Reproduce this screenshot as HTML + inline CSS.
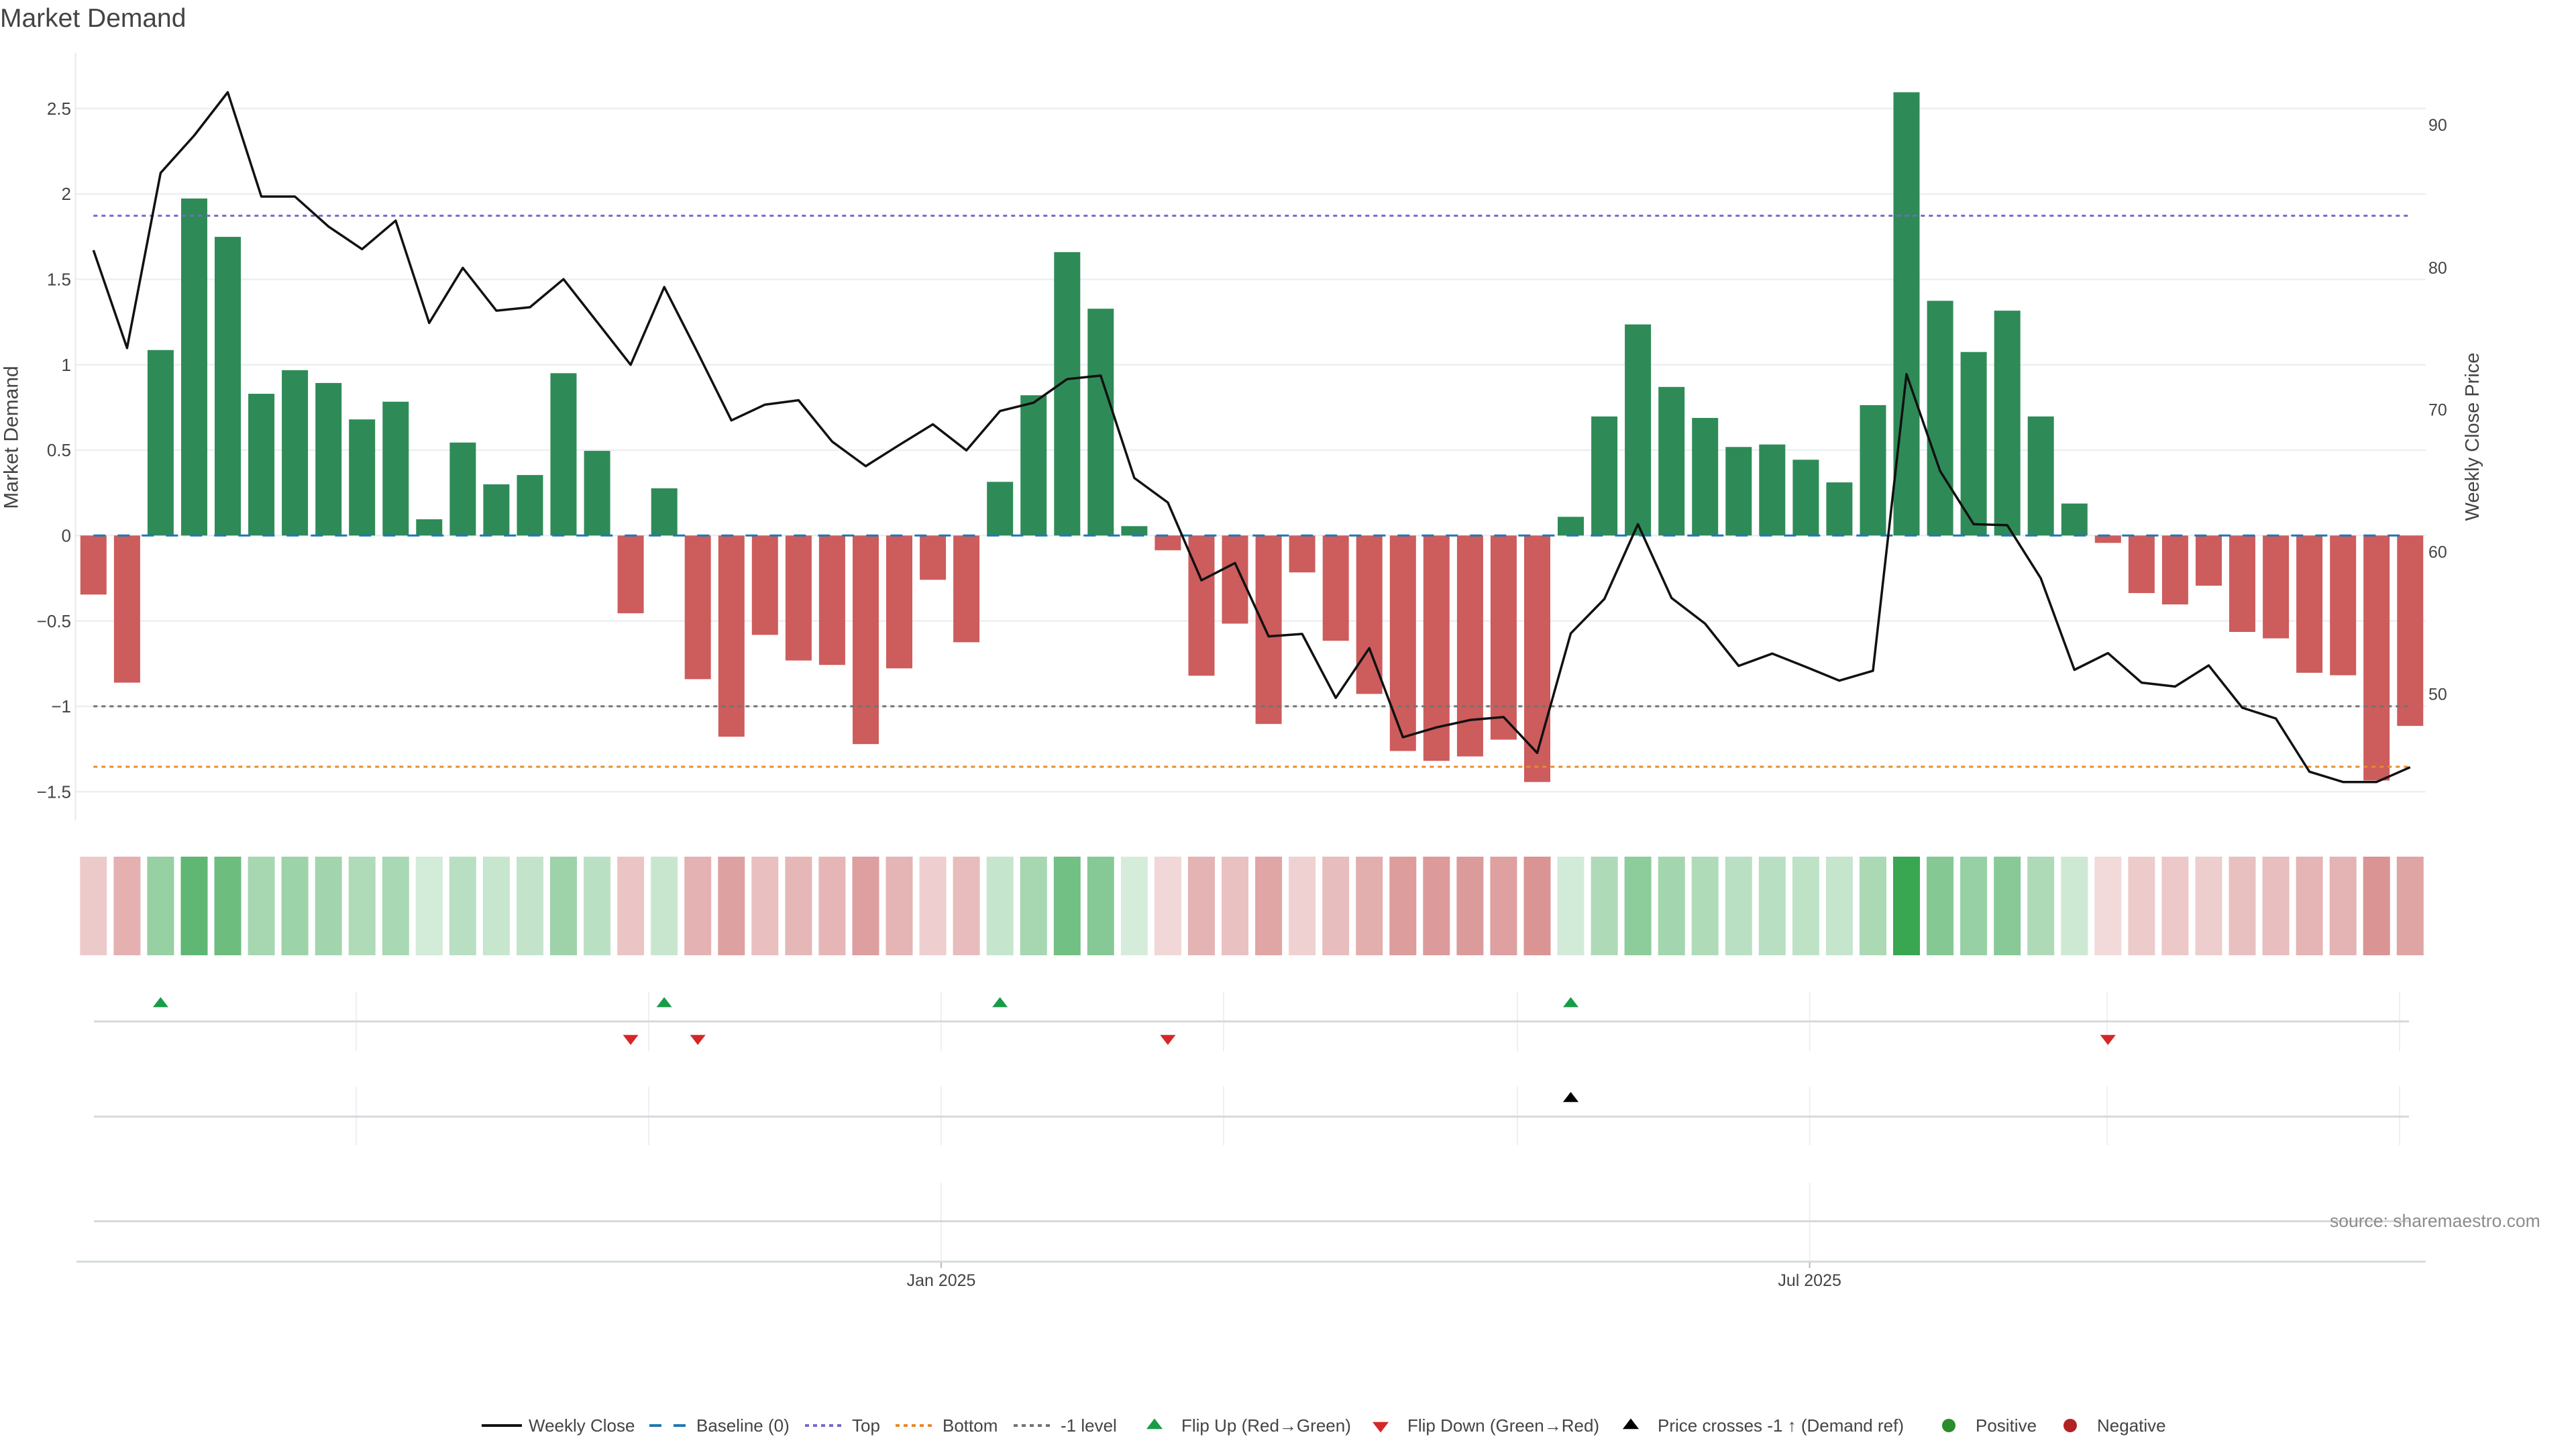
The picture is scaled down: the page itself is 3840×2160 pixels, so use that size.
<!DOCTYPE html>
<html>
<head>
<meta charset="utf-8">
<style>
html,body{margin:0;padding:0;background:#fff;}
svg{display:block;}
text{font-family:"Liberation Sans",Arial,sans-serif;}
</style>
</head>
<body>
<svg width="3840" height="2160" viewBox="0 0 3840 2160" xmlns="http://www.w3.org/2000/svg">
<rect x="0" y="0" width="3840" height="2160" fill="#fff"/>

<!-- Title -->
<text x="0" y="40" font-size="39" fill="#444">Market Demand</text>

<!-- Main plot gridlines -->
<g stroke="#eceff2" stroke-width="2.5">
<line x1="113" y1="161.8" x2="3616" y2="161.8"/>
<line x1="113" y1="289.1" x2="3616" y2="289.1"/>
<line x1="113" y1="416.4" x2="3616" y2="416.4"/>
<line x1="113" y1="543.7" x2="3616" y2="543.7"/>
<line x1="113" y1="671.0" x2="3616" y2="671.0"/>
<line x1="113" y1="798.3" x2="3616" y2="798.3"/>
<line x1="113" y1="925.6" x2="3616" y2="925.6"/>
<line x1="113" y1="1052.9" x2="3616" y2="1052.9"/>
<line x1="113" y1="1180.2" x2="3616" y2="1180.2"/>
</g>
<line x1="112.5" y1="79" x2="112.5" y2="1223" stroke="#e6e8eb" stroke-width="2"/>

<!-- Left tick labels -->
<g font-size="26" fill="#444" text-anchor="end">
<text x="106" y="171">2.5</text>
<text x="106" y="298">2</text>
<text x="106" y="425.5">1.5</text>
<text x="106" y="553">1</text>
<text x="106" y="680">0.5</text>
<text x="106" y="807.5">0</text>
<text x="106" y="935">−0.5</text>
<text x="106" y="1062">−1</text>
<text x="106" y="1189.5">−1.5</text>
</g>
<!-- Right tick labels -->
<g font-size="25" fill="#444">
<text x="3620" y="195">90</text>
<text x="3620" y="408">80</text>
<text x="3620" y="619.5">70</text>
<text x="3620" y="831.5">60</text>
<text x="3620" y="1043.5">50</text>
</g>
<!-- Axis titles -->
<text transform="translate(26.5,652) rotate(-90)" text-anchor="middle" font-size="30" fill="#444">Market Demand</text>
<text transform="translate(3695,651) rotate(-90)" text-anchor="middle" font-size="29" fill="#444">Weekly Close Price</text>

<!-- Bars -->
<g fill="#2e8b57">
<rect x="219.9" y="521.8" width="39" height="276.5"/>
<rect x="270.0" y="295.9" width="39" height="502.4"/>
<rect x="320.0" y="353.1" width="39" height="445.2"/>
<rect x="370.1" y="587.0" width="39" height="211.3"/>
<rect x="420.1" y="551.8" width="39" height="246.5"/>
<rect x="470.2" y="570.9" width="39" height="227.4"/>
<rect x="520.2" y="625.2" width="39" height="173.1"/>
<rect x="570.3" y="598.8" width="39" height="199.5"/>
<rect x="620.3" y="774.1" width="39" height="24.2"/>
<rect x="670.4" y="659.7" width="39" height="138.6"/>
<rect x="720.4" y="722.0" width="39" height="76.3"/>
<rect x="770.5" y="708.1" width="39" height="90.2"/>
<rect x="820.5" y="556.3" width="39" height="242.0"/>
<rect x="870.6" y="672.1" width="39" height="126.2"/>
<rect x="970.7" y="727.9" width="39" height="70.4"/>
<rect x="1471.2" y="718.3" width="39" height="80.0"/>
<rect x="1521.2" y="589.2" width="39" height="209.1"/>
<rect x="1571.3" y="375.8" width="39" height="422.5"/>
<rect x="1621.3" y="460.2" width="39" height="338.1"/>
<rect x="1671.4" y="784.3" width="39" height="14.0"/>
<rect x="2322.0" y="770.4" width="39" height="27.9"/>
<rect x="2372.1" y="620.8" width="39" height="177.5"/>
<rect x="2422.1" y="483.6" width="39" height="314.7"/>
<rect x="2472.2" y="576.8" width="39" height="221.5"/>
<rect x="2522.2" y="623.0" width="39" height="175.3"/>
<rect x="2572.3" y="666.3" width="39" height="132.0"/>
<rect x="2622.3" y="662.6" width="39" height="135.7"/>
<rect x="2672.4" y="685.3" width="39" height="113.0"/>
<rect x="2722.4" y="719.1" width="39" height="79.2"/>
<rect x="2772.5" y="603.9" width="39" height="194.4"/>
<rect x="2822.5" y="137.5" width="39" height="660.8"/>
<rect x="2872.6" y="448.4" width="39" height="349.9"/>
<rect x="2922.6" y="524.7" width="39" height="273.6"/>
<rect x="2972.7" y="463.1" width="39" height="335.2"/>
<rect x="3022.7" y="620.8" width="39" height="177.5"/>
<rect x="3072.8" y="750.6" width="39" height="47.7"/>
</g>
<g fill="#cd5c5c">
<rect x="119.8" y="798.3" width="39" height="88.0"/>
<rect x="169.9" y="798.3" width="39" height="219.3"/>
<rect x="920.6" y="798.3" width="39" height="115.9"/>
<rect x="1020.7" y="798.3" width="39" height="214.1"/>
<rect x="1070.8" y="798.3" width="39" height="299.9"/>
<rect x="1120.8" y="798.3" width="39" height="148.1"/>
<rect x="1170.9" y="798.3" width="39" height="186.3"/>
<rect x="1220.9" y="798.3" width="39" height="192.9"/>
<rect x="1271.0" y="798.3" width="39" height="310.9"/>
<rect x="1321.0" y="798.3" width="39" height="198.0"/>
<rect x="1371.1" y="798.3" width="39" height="66.0"/>
<rect x="1421.1" y="798.3" width="39" height="159.1"/>
<rect x="1721.4" y="798.3" width="39" height="22.0"/>
<rect x="1771.5" y="798.3" width="39" height="209.0"/>
<rect x="1821.5" y="798.3" width="39" height="131.3"/>
<rect x="1871.6" y="798.3" width="39" height="280.9"/>
<rect x="1921.6" y="798.3" width="39" height="55.0"/>
<rect x="1971.7" y="798.3" width="39" height="156.9"/>
<rect x="2021.7" y="798.3" width="39" height="236.1"/>
<rect x="2071.8" y="798.3" width="39" height="321.2"/>
<rect x="2121.8" y="798.3" width="39" height="335.9"/>
<rect x="2171.9" y="798.3" width="39" height="329.3"/>
<rect x="2221.9" y="798.3" width="39" height="304.3"/>
<rect x="2272.0" y="798.3" width="39" height="367.4"/>
<rect x="3122.8" y="798.3" width="39" height="11.0"/>
<rect x="3172.9" y="798.3" width="39" height="85.8"/>
<rect x="3222.9" y="798.3" width="39" height="102.7"/>
<rect x="3273.0" y="798.3" width="39" height="74.8"/>
<rect x="3323.0" y="798.3" width="39" height="143.7"/>
<rect x="3373.1" y="798.3" width="39" height="153.3"/>
<rect x="3423.1" y="798.3" width="39" height="204.6"/>
<rect x="3473.2" y="798.3" width="39" height="208.3"/>
<rect x="3523.2" y="798.3" width="39" height="365.2"/>
<rect x="3573.3" y="798.3" width="39" height="283.8"/>
</g>

<!-- Reference lines -->
<line x1="139.3" y1="798.3" x2="3592.8" y2="798.3" stroke="#1f77b4" stroke-width="3" stroke-dasharray="18 18"/>
<line x1="139.3" y1="321.6" x2="3592.8" y2="321.6" stroke="#7668c6" stroke-width="3" stroke-dasharray="6 6"/>
<line x1="139.3" y1="1052.9" x2="3592.8" y2="1052.9" stroke="#737373" stroke-width="3" stroke-dasharray="6 6"/>
<line x1="139.3" y1="1143.0" x2="3592.8" y2="1143.0" stroke="#e68a2e" stroke-width="3" stroke-dasharray="6 6"/>

<!-- Weekly close line -->
<polyline fill="none" stroke="#111" stroke-width="3.5" stroke-linejoin="round" points="139.3,372.9 189.4,518.8 239.4,257.8 289.5,202.0 339.5,137.5 389.6,293.0 439.6,293.0 489.7,337.7 539.7,371.4 589.8,328.9 639.8,481.4 689.9,399.3 739.9,463.1 790.0,458.0 840.0,416.2 890.1,480.0 940.1,543.8 990.2,427.9 1040.2,526.0 1090.3,626.7 1140.3,603.2 1190.4,596.6 1240.4,658.2 1290.5,694.9 1340.5,663.3 1390.6,632.5 1440.6,671.4 1490.7,612.7 1540.7,600.3 1590.8,565.1 1640.8,559.9 1690.9,712.5 1740.9,749.1 1791.0,865.0 1841.0,839.3 1891.1,948.6 1941.1,945.0 1991.2,1040.3 2041.2,966.2 2091.3,1099.0 2141.3,1084.3 2191.4,1073.3 2241.4,1068.9 2291.5,1122.4 2341.5,944.2 2391.6,892.9 2441.6,781.4 2491.7,891.4 2541.7,929.6 2591.8,992.6 2641.8,974.3 2691.9,994.1 2741.9,1014.6 2792.0,999.9 2842.0,557.7 2892.1,702.2 2942.1,781.4 2992.2,782.9 3042.2,862.1 3092.3,998.5 3142.3,973.6 3192.4,1017.6 3242.4,1023.4 3292.5,991.9 3342.5,1055.0 3392.6,1071.1 3442.6,1150.3 3492.7,1165.7 3542.7,1165.7 3592.8,1143.7"/>

<!-- Heatmap strip -->
<g fill="rgb(44,160,70)">
<rect x="219.4" y="1277" width="40" height="147" fill-opacity="0.497"/>
<rect x="269.5" y="1277" width="40" height="147" fill-opacity="0.756"/>
<rect x="319.5" y="1277" width="40" height="147" fill-opacity="0.691"/>
<rect x="369.6" y="1277" width="40" height="147" fill-opacity="0.422"/>
<rect x="419.6" y="1277" width="40" height="147" fill-opacity="0.463"/>
<rect x="469.7" y="1277" width="40" height="147" fill-opacity="0.441"/>
<rect x="519.7" y="1277" width="40" height="147" fill-opacity="0.379"/>
<rect x="569.8" y="1277" width="40" height="147" fill-opacity="0.409"/>
<rect x="619.8" y="1277" width="40" height="147" fill-opacity="0.208"/>
<rect x="669.9" y="1277" width="40" height="147" fill-opacity="0.339"/>
<rect x="719.9" y="1277" width="40" height="147" fill-opacity="0.268"/>
<rect x="770.0" y="1277" width="40" height="147" fill-opacity="0.283"/>
<rect x="820.0" y="1277" width="40" height="147" fill-opacity="0.458"/>
<rect x="870.1" y="1277" width="40" height="147" fill-opacity="0.325"/>
<rect x="970.2" y="1277" width="40" height="147" fill-opacity="0.261"/>
<rect x="1470.7" y="1277" width="40" height="147" fill-opacity="0.272"/>
<rect x="1520.7" y="1277" width="40" height="147" fill-opacity="0.420"/>
<rect x="1570.8" y="1277" width="40" height="147" fill-opacity="0.664"/>
<rect x="1620.8" y="1277" width="40" height="147" fill-opacity="0.568"/>
<rect x="1670.9" y="1277" width="40" height="147" fill-opacity="0.196"/>
<rect x="2321.5" y="1277" width="40" height="147" fill-opacity="0.212"/>
<rect x="2371.6" y="1277" width="40" height="147" fill-opacity="0.384"/>
<rect x="2421.6" y="1277" width="40" height="147" fill-opacity="0.541"/>
<rect x="2471.7" y="1277" width="40" height="147" fill-opacity="0.434"/>
<rect x="2521.7" y="1277" width="40" height="147" fill-opacity="0.381"/>
<rect x="2571.8" y="1277" width="40" height="147" fill-opacity="0.331"/>
<rect x="2621.8" y="1277" width="40" height="147" fill-opacity="0.336"/>
<rect x="2671.9" y="1277" width="40" height="147" fill-opacity="0.310"/>
<rect x="2721.9" y="1277" width="40" height="147" fill-opacity="0.271"/>
<rect x="2772.0" y="1277" width="40" height="147" fill-opacity="0.403"/>
<rect x="2822.0" y="1277" width="40" height="147" fill-opacity="0.938"/>
<rect x="2872.1" y="1277" width="40" height="147" fill-opacity="0.581"/>
<rect x="2922.1" y="1277" width="40" height="147" fill-opacity="0.494"/>
<rect x="2972.2" y="1277" width="40" height="147" fill-opacity="0.565"/>
<rect x="3022.2" y="1277" width="40" height="147" fill-opacity="0.384"/>
<rect x="3072.3" y="1277" width="40" height="147" fill-opacity="0.235"/>
</g>
<g fill="rgb(178,34,34)">
<rect x="119.3" y="1277" width="40" height="147" fill-opacity="0.238"/>
<rect x="169.4" y="1277" width="40" height="147" fill-opacity="0.355"/>
<rect x="920.1" y="1277" width="40" height="147" fill-opacity="0.263"/>
<rect x="1020.2" y="1277" width="40" height="147" fill-opacity="0.350"/>
<rect x="1070.3" y="1277" width="40" height="147" fill-opacity="0.426"/>
<rect x="1120.3" y="1277" width="40" height="147" fill-opacity="0.292"/>
<rect x="1170.4" y="1277" width="40" height="147" fill-opacity="0.325"/>
<rect x="1220.4" y="1277" width="40" height="147" fill-opacity="0.331"/>
<rect x="1270.5" y="1277" width="40" height="147" fill-opacity="0.436"/>
<rect x="1320.5" y="1277" width="40" height="147" fill-opacity="0.336"/>
<rect x="1370.6" y="1277" width="40" height="147" fill-opacity="0.219"/>
<rect x="1420.6" y="1277" width="40" height="147" fill-opacity="0.301"/>
<rect x="1720.9" y="1277" width="40" height="147" fill-opacity="0.179"/>
<rect x="1771.0" y="1277" width="40" height="147" fill-opacity="0.346"/>
<rect x="1821.0" y="1277" width="40" height="147" fill-opacity="0.277"/>
<rect x="1871.1" y="1277" width="40" height="147" fill-opacity="0.409"/>
<rect x="1921.1" y="1277" width="40" height="147" fill-opacity="0.209"/>
<rect x="1971.2" y="1277" width="40" height="147" fill-opacity="0.299"/>
<rect x="2021.2" y="1277" width="40" height="147" fill-opacity="0.370"/>
<rect x="2071.3" y="1277" width="40" height="147" fill-opacity="0.445"/>
<rect x="2121.3" y="1277" width="40" height="147" fill-opacity="0.458"/>
<rect x="2171.4" y="1277" width="40" height="147" fill-opacity="0.452"/>
<rect x="2221.4" y="1277" width="40" height="147" fill-opacity="0.430"/>
<rect x="2271.5" y="1277" width="40" height="147" fill-opacity="0.486"/>
<rect x="3122.3" y="1277" width="40" height="147" fill-opacity="0.170"/>
<rect x="3172.4" y="1277" width="40" height="147" fill-opacity="0.236"/>
<rect x="3222.4" y="1277" width="40" height="147" fill-opacity="0.251"/>
<rect x="3272.5" y="1277" width="40" height="147" fill-opacity="0.226"/>
<rect x="3322.5" y="1277" width="40" height="147" fill-opacity="0.287"/>
<rect x="3372.6" y="1277" width="40" height="147" fill-opacity="0.296"/>
<rect x="3422.6" y="1277" width="40" height="147" fill-opacity="0.342"/>
<rect x="3472.7" y="1277" width="40" height="147" fill-opacity="0.345"/>
<rect x="3522.7" y="1277" width="40" height="147" fill-opacity="0.484"/>
<rect x="3572.8" y="1277" width="40" height="147" fill-opacity="0.412"/>
</g>

<!-- Marker panels: vertical gridlines -->
<g stroke="#eef0f3" stroke-width="2">
<line x1="531" y1="1478" x2="531" y2="1567"/>
<line x1="967" y1="1478" x2="967" y2="1567"/>
<line x1="1403" y1="1478" x2="1403" y2="1567"/>
<line x1="1824" y1="1478" x2="1824" y2="1567"/>
<line x1="2262" y1="1478" x2="2262" y2="1567"/>
<line x1="2697.6" y1="1478" x2="2697.6" y2="1567"/>
<line x1="3141" y1="1478" x2="3141" y2="1567"/>
<line x1="3577" y1="1478" x2="3577" y2="1567"/>
<line x1="531" y1="1619.5" x2="531" y2="1707"/>
<line x1="967" y1="1619.5" x2="967" y2="1707"/>
<line x1="1403" y1="1619.5" x2="1403" y2="1707"/>
<line x1="1824" y1="1619.5" x2="1824" y2="1707"/>
<line x1="2262" y1="1619.5" x2="2262" y2="1707"/>
<line x1="2697.6" y1="1619.5" x2="2697.6" y2="1707"/>
<line x1="3141" y1="1619.5" x2="3141" y2="1707"/>
<line x1="3577" y1="1619.5" x2="3577" y2="1707"/>
<line x1="1403" y1="1763" x2="1403" y2="1879"/>
<line x1="2697.6" y1="1763" x2="2697.6" y2="1879"/>
</g>
<g stroke="#d6d9dc" stroke-width="3">
<line x1="140" y1="1522.6" x2="3591" y2="1522.6"/>
<line x1="140" y1="1664.5" x2="3591" y2="1664.5"/>
<line x1="140" y1="1820.5" x2="3591" y2="1820.5"/>
<line x1="114" y1="1880.7" x2="3616" y2="1880.7"/>
</g>
<g stroke="#b5b8bb" stroke-width="2">
<line x1="1403" y1="1882" x2="1403" y2="1890"/>
<line x1="2697.6" y1="1882" x2="2697.6" y2="1890"/>
</g>

<!-- Flip up markers -->
<g fill="#189c48">
<polygon points="227.85,1501.4 250.95,1501.4 239.4,1486.4"/>
<polygon points="978.6,1501.4 1001.7,1501.4 990.15,1486.4"/>
<polygon points="1479.1,1501.4 1502.2,1501.4 1490.65,1486.4"/>
<polygon points="2329.95,1501.4 2353.05,1501.4 2341.5,1486.4"/>
</g>
<!-- Flip down markers -->
<g fill="#d62728">
<polygon points="928.55,1542.8 951.65,1542.8 940.1,1557.8"/>
<polygon points="1028.65,1542.8 1051.75,1542.8 1040.2,1557.8"/>
<polygon points="1729.35,1542.8 1752.45,1542.8 1740.9,1557.8"/>
<polygon points="3130.75,1542.8 3153.85,1542.8 3142.3,1557.8"/>
</g>
<!-- Price crosses marker -->
<polygon points="2329.95,1642.8 2353.05,1642.8 2341.5,1627.8" fill="#000"/>

<!-- Source annotation -->
<text x="3473" y="1829" font-size="26.5" fill="#8c8c8c">source: sharemaestro.com</text>

<!-- X-axis labels -->
<g font-size="25" fill="#444" text-anchor="middle">
<text x="1403" y="1917">Jan 2025</text>
<text x="2697.6" y="1917">Jul 2025</text>
</g>

<!-- Legend -->
<g font-size="26" fill="#444">
<line x1="718" y1="2125" x2="778" y2="2125" stroke="#111" stroke-width="4"/>
<text x="788" y="2134">Weekly Close</text>
<line x1="968" y1="2125" x2="1028" y2="2125" stroke="#1f77b4" stroke-width="4" stroke-dasharray="18 18"/>
<text x="1038" y="2134">Baseline (0)</text>
<line x1="1200" y1="2125" x2="1260" y2="2125" stroke="#7668c6" stroke-width="4" stroke-dasharray="6 6"/>
<text x="1270" y="2134">Top</text>
<line x1="1335" y1="2125" x2="1395" y2="2125" stroke="#e68a2e" stroke-width="4" stroke-dasharray="6 6"/>
<text x="1405" y="2134">Bottom</text>
<line x1="1511" y1="2125" x2="1571" y2="2125" stroke="#737373" stroke-width="4" stroke-dasharray="6 6"/>
<text x="1581" y="2134">-1 level</text>
<polygon points="1708.9,2130.25 1733.1,2130.25 1721,2114.5" fill="#189c48"/>
<text x="1761" y="2134">Flip Up (Red→Green)</text>
<polygon points="2045.9,2119.75 2070.1,2119.75 2058,2135.5" fill="#d62728"/>
<text x="2098" y="2134">Flip Down (Green→Red)</text>
<polygon points="2418.9,2130.25 2443.1,2130.25 2431,2114.5" fill="#000"/>
<text x="2471" y="2134">Price crosses -1 ↑ (Demand ref)</text>
<circle cx="2905" cy="2125" r="10" fill="#2a8c2a"/>
<text x="2945" y="2134">Positive</text>
<circle cx="3086" cy="2125" r="10" fill="#b22222"/>
<text x="3126" y="2134">Negative</text>
</g>
</svg>
</body>
</html>
